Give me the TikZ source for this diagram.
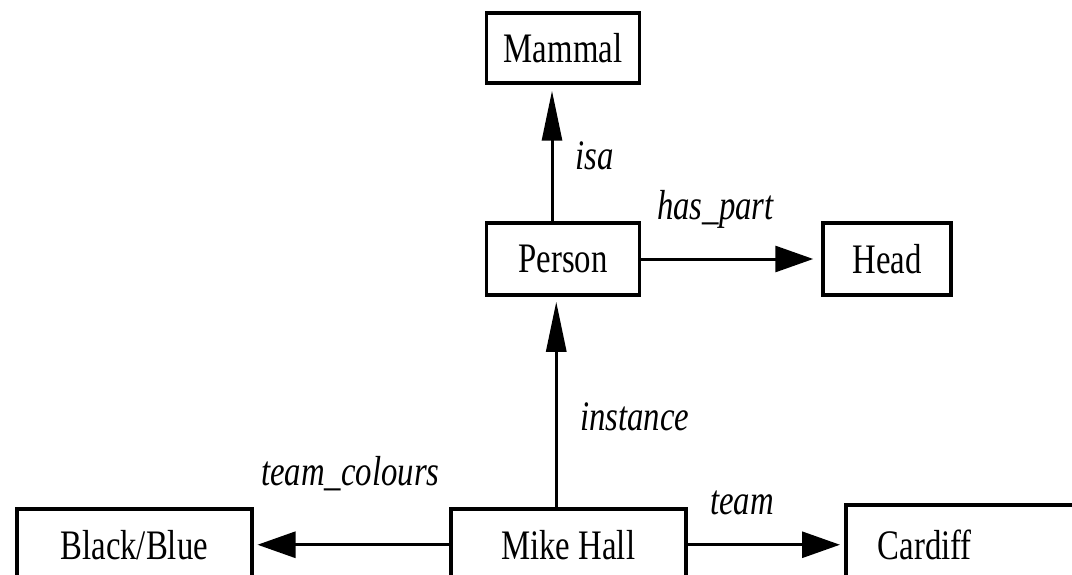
\documentclass[tikz,border=0pt]{standalone}
\usepackage{fontspec}
\setmainfont{Liberation Serif}[FakeStretch=0.78]
\usetikzlibrary{arrows.meta}
\begin{document}
\begin{tikzpicture}[x=1pt,y=-1pt,
  box/.style={draw, line width=3.5pt, rectangle, inner sep=0pt, font=\fontsize{42}{42}\selectfont},
  lab/.style={font=\fontsize{42}{42}\selectfont\itshape, inner sep=0pt, anchor=base west},
  vlink/.style={line width=3pt, -{Triangle[length=50pt,width=20pt]}},
  hlink/.style={line width=3pt, -{Triangle[length=38pt,width=26pt]}}]
\path[use as bounding box, clip] (0,0) rectangle (1072,575);
\fill[white] (0,0) rectangle (1072,575);
\node[box, minimum width=153, minimum height=70] (mammal) at (563,48) {Mammal};
\node[box, minimum width=153, minimum height=72] (person) at (563,259) {Person};
\node[box, minimum width=128, minimum height=72] (head) at (887,259) {Head};
\node[box, minimum width=235, minimum height=72, anchor=north west] (bb) at (15,507) {Black/Blue};
\node[box, minimum width=235, minimum height=72, anchor=north west] (mike) at (449,507) {Mike Hall};
\node[box, text width=200, align=left, inner xsep=32, minimum height=80, anchor=north west] (cardiff) at (844,503) {Cardiff};
\draw[vlink, shorten >=6pt] ([xshift=-11pt]person.north) -- ([xshift=-11pt]mammal.south);
\draw[vlink, shorten >=5pt] ([xshift=-12pt]mike.north) -- ([xshift=-12pt]mike.north |- person.south);
\draw[hlink, shorten >=8pt] (person.east) -- (head.west);
\draw[hlink, shorten >=4pt] (mike.west) -- (bb.east);
\draw[hlink, shorten >=4pt] (mike.east) -- (cardiff.west);
\node[lab] (isa) at (575,170) {isa};
\node[lab] (haspart) at (657,220) {has\_part};
\node[lab] (inst) at (580,430) {instance};
\node[lab] (tc) at (261,485) {team\_colours};
\node[lab] (team) at (710,514) {team};
\end{tikzpicture}
\end{document}
